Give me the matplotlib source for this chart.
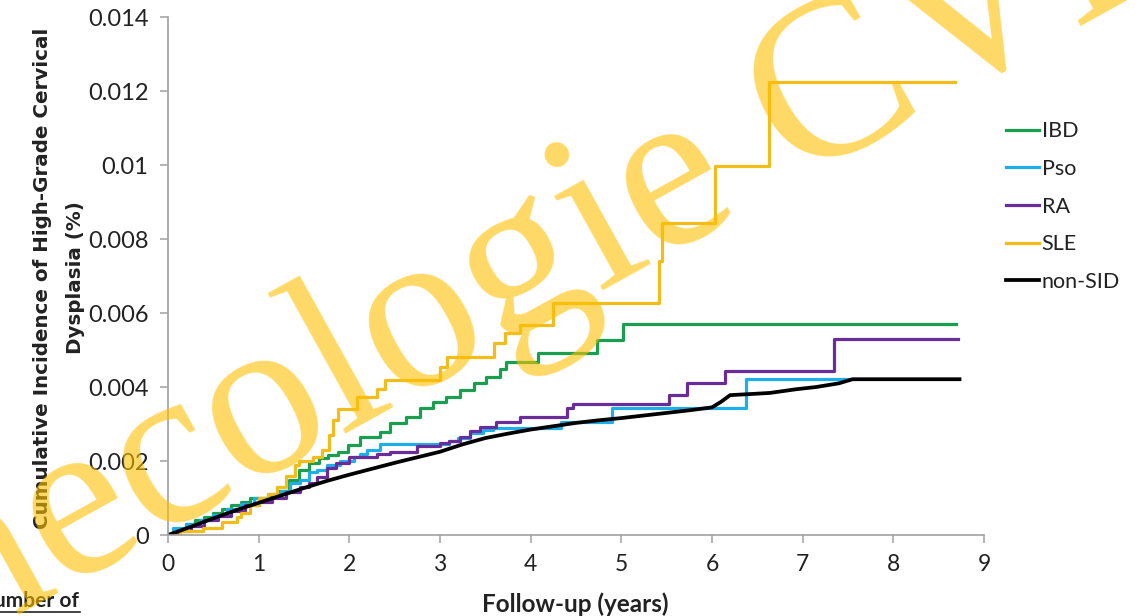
import matplotlib
matplotlib.use("Agg")
import matplotlib.pyplot as plt
from matplotlib.lines import Line2D

# ---------------- data ----------------
ibd_t = [0, 0.1, 0.2, 0.3, 0.4, 0.5, 0.6, 0.7, 0.8, 0.9, 1.1, 1.22, 1.33, 1.44, 1.55, 1.66, 1.77,
         1.88, 1.99, 2.12, 2.34, 2.45, 2.63, 2.78, 2.92, 3.07, 3.22, 3.37, 3.51, 3.66, 3.73,
         4.08, 4.73, 5.02, 8.69]
ibd_v = [0, 0.00015, 0.0003, 0.0004, 0.0005, 0.0006, 0.0007, 0.0008, 0.0009, 0.001, 0.00103,
         0.0012, 0.0015, 0.00176, 0.00195, 0.00208, 0.00216, 0.00225, 0.00243, 0.00265, 0.00278,
         0.00303, 0.00319, 0.00343, 0.0036, 0.00373, 0.00392, 0.0041, 0.00427, 0.0045, 0.00468,
         0.00491, 0.00527, 0.0057, 0.0057]

pso_t = [0, 0.05, 0.2, 0.35, 0.5, 0.65, 0.8, 0.95, 1.1, 1.25, 1.35, 1.46, 1.55, 1.64, 1.75, 1.9,
         2.05, 2.12, 2.2, 2.34, 3.1, 3.2, 3.33, 3.47, 3.58, 4.34, 4.9, 6.38, 7.52]
pso_v = [0, 0.0002, 0.0003, 0.0004, 0.00055, 0.0007, 0.00085, 0.001, 0.0011, 0.0012, 0.0014,
         0.0015, 0.0017, 0.00176, 0.0019, 0.002, 0.0021, 0.0022, 0.0023, 0.00245, 0.00255,
         0.00262, 0.00275, 0.00284, 0.00289, 0.00306, 0.00343, 0.00421, 0.00421]

ra_t = [0, 0.1, 0.25, 0.4, 0.55, 0.7, 0.85, 1.0, 1.15, 1.3, 1.46, 1.55, 1.64, 1.75, 1.85, 2.0,
        2.3, 2.45, 2.75, 3.0, 3.1, 3.22, 3.33, 3.44, 3.62, 3.88, 4.4, 4.47, 5.53, 5.72, 6.14,
        7.35, 8.71]
ra_v = [0, 0.0001, 0.00025, 0.0004, 0.00052, 0.00065, 0.0008, 0.0009, 0.001, 0.00115, 0.0013,
        0.0014, 0.00157, 0.0018, 0.00195, 0.0021, 0.0022, 0.00225, 0.0024, 0.00249, 0.00255,
        0.00265, 0.0028, 0.00292, 0.00305, 0.0032, 0.00343, 0.00354, 0.00378, 0.0041, 0.00443,
        0.0053, 0.0053]

sle_t = [0, 0.13, 0.39, 0.6, 0.76, 0.8, 0.9, 1.0, 1.1, 1.2, 1.3, 1.4, 1.45, 1.6, 1.7, 1.78,
         1.82, 1.87, 2.08, 2.3, 2.39, 3.0, 3.08, 3.6, 3.72, 3.88, 4.25, 5.42, 5.45, 6.03, 6.63,
         8.68]
sle_v = [0, 0.0001, 0.0002, 0.00035, 0.0005, 0.0006, 0.0008, 0.001, 0.0011, 0.0013, 0.0016,
         0.0019, 0.002, 0.0021, 0.0023, 0.0027, 0.0031, 0.0034, 0.00373, 0.00394, 0.0042,
         0.00455, 0.0048, 0.0052, 0.00545, 0.00567, 0.00627, 0.0074, 0.00843, 0.00997, 0.01224,
         0.01224]

non_t = [0, 0.25, 0.5, 0.75, 1.0, 1.25, 1.5, 1.75, 2.0, 2.25, 2.5, 2.75, 3.0, 3.25, 3.5, 3.75,
         4.0, 4.25, 4.5, 4.75, 5.0, 5.25, 5.5, 5.75, 6.0, 6.1, 6.2, 6.5, 6.64, 6.93, 7.15, 7.4,
         7.55, 8.73]
non_v = [0, 0.00022, 0.00045, 0.00067, 0.00087, 0.00107, 0.00127, 0.00146, 0.00163, 0.00179,
         0.00195, 0.0021, 0.00225, 0.00245, 0.00262, 0.00274, 0.00285, 0.00294, 0.00303, 0.0031,
         0.00316, 0.00323, 0.0033, 0.00337, 0.00345, 0.0036, 0.00378, 0.00382, 0.00384, 0.00394,
         0.004, 0.0041, 0.00421, 0.00421]

labels = ["IBD", "Pso", "RA", "SLE", "non-SID"]
colors = ["#1a9e50", "#1eaee8", "#6a2c9a", "#f2bc1b", "#000000"]

x_ticks = list(range(0, 10))
y_ticks = [0, 0.002, 0.004, 0.006, 0.008, 0.01, 0.012, 0.014]
y_tick_labels = ["0", "0.002", "0.004", "0.006", "0.008", "0.01", "0.012", "0.014"]

# ---------------- figure ----------------
W, H = 1145, 616
fig = plt.figure(figsize=(W / 100, H / 100), dpi=100)
fig.patch.set_facecolor("white")
ax = fig.add_axes([168 / W, 1 - 535 / H, (984 - 168) / W, (535 - 17) / H])

font = "Lato"
lw = 2.3
ax.step(ibd_t, ibd_v, where="post", color=colors[0], lw=lw, label=labels[0])
ax.step(pso_t, pso_v, where="post", color=colors[1], lw=lw, label=labels[1])
ax.step(ra_t, ra_v, where="post", color=colors[2], lw=lw, label=labels[2])
ax.step(sle_t, sle_v, where="post", color=colors[3], lw=lw, label=labels[3])
ax.plot(non_t, non_v, color=colors[4], lw=lw + 0.4, label=labels[4])

ax.set_xlim(0, 9)
ax.set_ylim(0, 0.014)
ax.set_xticks(x_ticks)
ax.set_xticklabels([str(t) for t in x_ticks], fontsize=16.5, family=font, color="#222222")
ax.set_yticks(y_ticks)
ax.set_yticklabels(y_tick_labels, fontsize=17, family=font, color="#222222")
for s in ["top", "right"]:
    ax.spines[s].set_visible(False)
for s in ["left", "bottom"]:
    ax.spines[s].set_color("#a0a0a0")
    ax.spines[s].set_linewidth(1.2)
ax.tick_params(direction="out", length=6, width=1.1, color="#a0a0a0")
ax.tick_params(axis="y", pad=8)
ax.tick_params(axis="x", pad=8)

fig.text(575 / W, 1 - 604 / H, "Follow-up (years)", ha="center", va="center",
         fontsize=17.5, fontweight="bold", family=font, color="#222222")
fig.text(59 / W, 1 - 278 / H, "Cumulative Incidence of High-Grade Cervical\nDysplasia (%)",
         rotation=90, ha="center", va="center", fontsize=14.3, fontweight="bold",
         family="DejaVu Sans", color="#222222", linespacing=1.95, multialignment="center")

# cropped caption at bottom-left
fig.text(-22 / W, 1 - 601 / H, "Number of", ha="left", va="center", fontsize=15,
         fontweight="bold", family=font, color="#222222")
fig.add_artist(Line2D([0, 80 / W], [1 - 612 / H, 1 - 612 / H], color="#222222", lw=1.2,
                      transform=fig.transFigure))

leg = fig.legend(loc="upper left", bbox_to_anchor=(987 / W, 1 - 102 / H), frameon=False,
                 handlelength=1.5, handletextpad=0.14, labelspacing=0.82,
                 prop={"family": font, "size": 15.5})
for t in leg.get_texts():
    t.set_color("#222222")

# watermark
fig.text(-285 / W, 1 - 784 / H, "Gynecologie CVL", rotation=29, rotation_mode="anchor",
         ha="left", va="baseline", fontsize=166, family="Liberation Serif",
         color="#ffc000", alpha=0.6, zorder=20)

fig.savefig("out.png", dpi=100, facecolor="white")
